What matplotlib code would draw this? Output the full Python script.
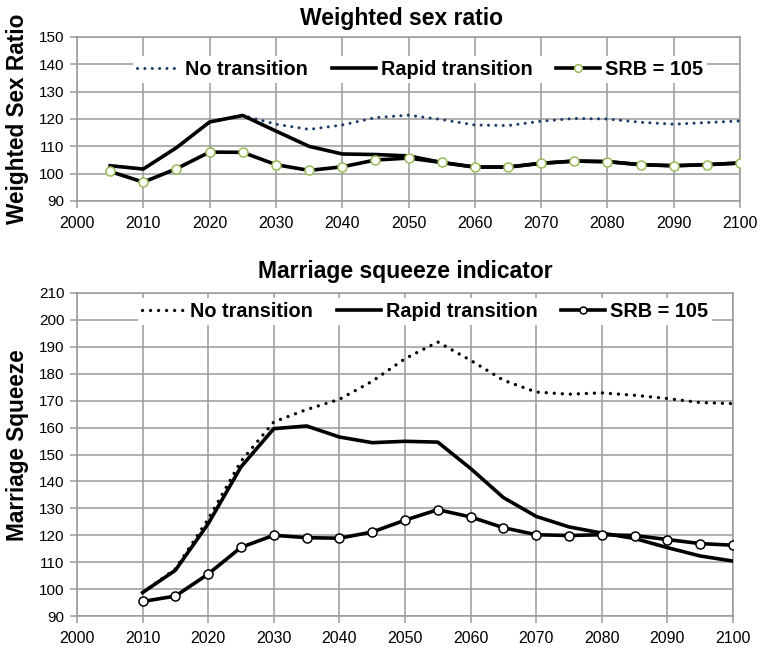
import matplotlib
matplotlib.use("Agg")
import matplotlib.pyplot as plt
from matplotlib.lines import Line2D

plt.rcParams['font.family'] = ['Liberation Sans', 'DejaVu Sans']

# Weighted sex ratio (top panel)
years_top = [2005, 2010, 2015, 2020, 2025, 2030, 2035, 2040, 2045, 2050,
             2055, 2060, 2065, 2070, 2075, 2080, 2085, 2090, 2095, 2100]
wsr_no_transition = [102.9, 101.7, 109.5, 118.9, 121.3, 118.1, 116.2, 117.8, 120.5, 121.4,
                     119.8, 117.8, 117.6, 119.2, 120.2, 120.0, 118.8, 118.1, 118.7, 119.3]
wsr_rapid = [102.9, 101.7, 109.5, 118.9, 121.3, 115.6, 110.0, 107.2, 107.0, 106.5,
             104.1, 102.4, 102.4, 103.8, 104.6, 104.4, 103.3, 102.9, 103.3, 103.9]
wsr_srb105 = [100.8, 96.9, 101.8, 107.9, 107.8, 103.3, 101.2, 102.5, 105.0, 105.7,
              104.1, 102.4, 102.4, 103.8, 104.6, 104.4, 103.3, 102.9, 103.3, 103.9]

# Marriage squeeze indicator (bottom panel)
years_bot = [2010, 2015, 2020, 2025, 2030, 2035, 2040, 2045, 2050, 2055,
             2060, 2065, 2070, 2075, 2080, 2085, 2090, 2095, 2100]
msq_no_transition = [98.7, 107.5, 126.0, 147.5, 162.1, 166.7, 170.5, 177.2, 185.6, 191.8,
                     185.0, 177.6, 173.2, 172.4, 172.9, 172.0, 170.8, 169.3, 168.9]
msq_rapid = [98.7, 107.0, 124.3, 145.4, 159.6, 160.6, 156.5, 154.4, 154.9, 154.6,
             144.8, 134.0, 127.0, 123.1, 120.8, 118.8, 115.4, 112.3, 110.4]
msq_srb105 = [95.4, 97.4, 105.6, 115.5, 120.0, 119.1, 118.9, 121.2, 125.6, 129.5,
              126.8, 122.8, 120.2, 119.9, 120.2, 119.9, 118.4, 116.9, 116.3]

series_labels = ["No transition", "Rapid transition", "SRB = 105"]
x_ticks = list(range(2000, 2101, 10))
grid_col = "#9a9a9a"

fig = plt.figure(figsize=(7.6, 6.48), dpi=100)
ax1 = fig.add_axes([77 / 760, 1 - 201 / 648, 663 / 760, 164 / 648])
ax2 = fig.add_axes([77 / 760, 1 - 616 / 648, 656 / 760, 323 / 648])


def style_axes(ax, ylim, yticks):
    ax.set_xlim(2000, 2100)
    ax.set_ylim(*ylim)
    ax.set_xticks(x_ticks)
    ax.set_yticks(yticks)
    ax.grid(True, color=grid_col, linewidth=1.1)
    ax.set_axisbelow(True)
    for s in ax.spines.values():
        s.set_color(grid_col)
        s.set_linewidth(1.1)
    ax.tick_params(axis='both', direction='out', length=5, width=1.1, color=grid_col)
    ax.tick_params(axis='x', labelsize=11.5, pad=6)
    ax.tick_params(axis='y', labelsize=11, pad=4)


dot_style = dict(linestyle=(0, (0.01, 2.4)), dash_capstyle='round')
leg_kw = dict(ncol=3, loc='center', frameon=True, framealpha=1, edgecolor='none',
              facecolor='white', fancybox=False, handlelength=2.2, handletextpad=0.25,
              columnspacing=1.2, borderpad=0.2, prop=dict(size=14.3, weight='bold'))

# Top panel
style_axes(ax1, (90, 150), list(range(90, 151, 10)))
navy = "#1f3b6b"
green = "#9bbb59"
ax1.plot(years_top, wsr_no_transition, color=navy, linewidth=2.2, zorder=3, **dot_style)
ax1.plot(years_top, wsr_rapid, color="black", linewidth=2.6, zorder=4)
ax1.plot(years_top, wsr_srb105, color="black", linewidth=2.6, marker='o', markersize=6.5,
         markerfacecolor="white", markeredgecolor=green, markeredgewidth=1.1, zorder=5)
ax1.set_title("Weighted sex ratio", fontsize=16.5, fontweight='bold', pad=9,
              x=(401 - 77) / 663)
ax1.set_ylabel("Weighted Sex Ratio", fontsize=16.3, fontweight='bold')
ax1.yaxis.set_label_coords((29 - 77) / 663, 0.5)

h1 = [Line2D([], [], color=navy, linewidth=2.2, **dot_style),
      Line2D([], [], color="black", linewidth=2.6),
      Line2D([], [], color="black", linewidth=2.6, marker='o', markersize=5.5,
             markerfacecolor="white", markeredgecolor=green, markeredgewidth=1.1)]
ax1.legend(h1, series_labels, bbox_to_anchor=(0.517, 0.80), **leg_kw)

# Bottom panel
style_axes(ax2, (90, 210), list(range(90, 211, 10)))
ax2.plot(years_bot, msq_no_transition, color="black", linewidth=2.4, zorder=3, **dot_style)
ax2.plot(years_bot, msq_rapid, color="black", linewidth=2.6, zorder=4)
ax2.plot(years_bot, msq_srb105, color="black", linewidth=2.6, marker='o', markersize=6.5,
         markerfacecolor="white", markeredgecolor="black", markeredgewidth=1.1, zorder=5)
ax2.set_title("Marriage squeeze indicator", fontsize=16.5, fontweight='bold', pad=11)
ax2.set_ylabel("Marriage Squeeze", fontsize=16.3, fontweight='bold')
ax2.yaxis.set_label_coords((29 - 77) / 656, (616 - 445) / 323)

h2 = [Line2D([], [], color="black", linewidth=2.4, **dot_style),
      Line2D([], [], color="black", linewidth=2.6),
      Line2D([], [], color="black", linewidth=2.6, marker='o', markersize=5,
             markerfacecolor="white", markeredgecolor="black", markeredgewidth=1.1)]
ax2.legend(h2, series_labels, bbox_to_anchor=(0.53, 0.944), **leg_kw)

fig.savefig("out.png", dpi=100)
